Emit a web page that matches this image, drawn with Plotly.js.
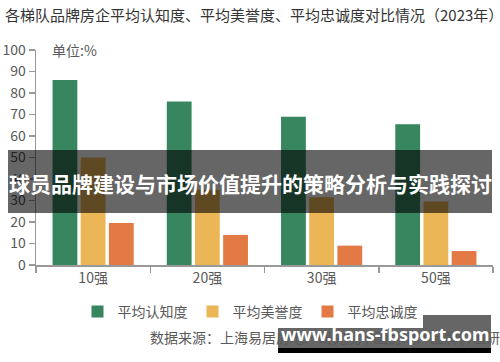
<!DOCTYPE html>
<html>
<head>
<meta charset="utf-8">
<script src="https://cdn.plot.ly/plotly-3.0.1.min.js"></script>
<style>html,body{margin:0;padding:0;background:#fff;}#chart{width:500px;height:362px;}</style>
</head>
<body>
<div id="chart"></div>
<script>
const categories = ['10强', '20强', '30强', '50强'];
const seriesNames = ['平均认知度', '平均美誉度', '平均忠诚度'];
const awareness = [86, 76, 69, 65.5];
const reputation = [50, 35, 31.5, 29.5];
const loyalty = [19.5, 14, 9, 6.5];
const yTickVals = [0, 10, 20, 30, 40, 50, 60, 70, 80, 90, 100];
const colors = ['#388660', '#ebb656', '#e37a45'];

const FONT = '"Noto Sans CJK SC", "Noto Sans", sans-serif';
const GRAY = '#595959';

// plot area in pixels
const L = 36, R = 493, T = 50, B = 265;
const px = x => (x - L) / (R - L);
const py = y => (B - y) / (B - T);

const values = [awareness, reputation, loyalty];
const traces = values.map((v, i) => ({
  type: 'bar', x: categories, y: v, name: seriesNames[i],
  marker: {color: colors[i]}, hoverinfo: 'none'
}));

const layout = {
  width: 500, height: 362,
  margin: {l: L, r: 500 - R, t: T, b: 362 - B, pad: 0, autoexpand: false},
  paper_bgcolor: '#fff', plot_bgcolor: '#fff',
  font: {family: FONT, color: GRAY, size: 14},
  barmode: 'group', bargap: 0.26, bargroupgap: 0.12,
  title: {text: '各梯队品牌房企平均认知度、平均美誉度、平均忠诚度对比情况（2023年）',
          x: 5 / 500, xanchor: 'left', xref: 'container', y: 1 - 16 / 362, yanchor: 'middle', yref: 'container',
          font: {family: FONT, size: 15, color: '#333'}},
  xaxis: {showgrid: false, showline: true, linecolor: '#999', linewidth: 1.5,
          ticks: 'outside', tickson: 'boundaries', ticklen: 6, tickcolor: '#999', tickwidth: 1.5,
          tickfont: {size: 14, color: GRAY}, fixedrange: true, automargin: false},
  yaxis: {range: [0, 100], tickvals: yTickVals, showgrid: false, zeroline: false,
          showline: true, linecolor: '#999', linewidth: 1.5,
          ticks: 'outside', ticklen: 6, tickcolor: '#999', tickwidth: 1.5,
          tickfont: {size: 14, color: GRAY}, fixedrange: true, automargin: false},
  showlegend: true,
  legend: {orientation: 'h', x: 0.5, xref: 'container', xanchor: 'center', y: 1 - 312 / 362, yref: 'container', yanchor: 'middle',
           font: {size: 14, color: GRAY}, itemwidth: 30, traceorder: 'normal'},
  annotations: [
    {text: '单位:%', xref: 'paper', yref: 'paper', x: px(50), y: py(50), xanchor: 'left', yanchor: 'middle',
     showarrow: false, font: {size: 14, color: GRAY}},
    {text: '数据来源：上海易居房地产研究院中国房地产品牌价值研究', xref: 'paper', yref: 'paper', x: px(148), y: py(337),
     xanchor: 'left', yanchor: 'middle', showarrow: false, font: {size: 14, color: GRAY}},
    {text: '<b>球员品牌建设与市场价值提升的策略分析与实践探讨</b>', xref: 'paper', yref: 'paper', x: px(250), y: py(183),
     xanchor: 'center', yanchor: 'middle', showarrow: false, font: {size: 21, color: '#fff', family: FONT}},
    {text: '<b>www.hans-fbsport.com</b>', xref: 'paper', yref: 'paper', x: px(385), y: py(334),
     xanchor: 'center', yanchor: 'middle', showarrow: false, font: {size: 18, color: '#fff', family: '"Noto Sans", sans-serif'}}
  ],
  shapes: [
    {type: 'rect', xref: 'paper', yref: 'paper', x0: px(8), x1: px(492), y0: py(150), y1: py(213),
     fillcolor: 'rgba(0,0,0,0.6)', line: {width: 0}, layer: 'above'},
    {type: 'rect', xref: 'paper', yref: 'paper', x0: px(278), x1: px(491), y0: py(315), y1: py(349),
     fillcolor: 'rgba(0,0,0,0.6)', line: {width: 0}, layer: 'above'},
    {type: 'rect', xref: 'paper', yref: 'paper', x0: px(278), x1: px(491), y0: py(348), y1: py(353),
     fillcolor: '#000', line: {width: 0}, layer: 'above'}
  ]
};

Plotly.newPlot('chart', traces, layout, {staticPlot: true, displayModeBar: false});
</script>
</body>
</html>
